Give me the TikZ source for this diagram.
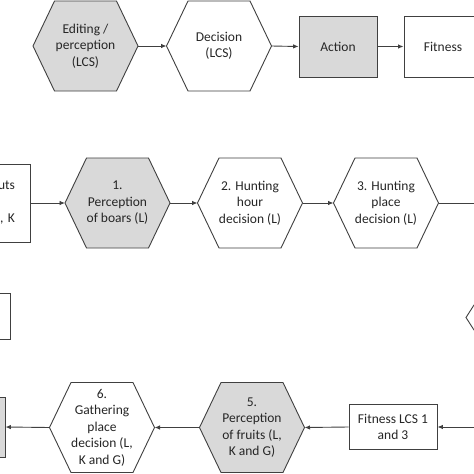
\documentclass[tikz,border=0pt]{standalone}
\usepackage{fontspec}
\setmainfont{Carlito}
\usetikzlibrary{arrows.meta}
\definecolor{lc}{HTML}{404040}
\definecolor{gf}{HTML}{D9D9D9}
\definecolor{tc}{HTML}{262626}
\tikzset{
  ln/.style={draw=lc, line width=0.9pt},
  arr/.style={ln, -{Latex[length=5.5pt,width=4.5pt]}},
  txt/.style={text=tc, font=\fontsize{13.5}{16.5}\selectfont, align=center, inner sep=0pt},
  rectbox/.style={ln, txt, rectangle, inner sep=2pt},
}
\newcommand{\hexag}[5]{%
  \begin{scope}[shift={(#2,#3)}]
    \draw[ln, fill=#4] (-31,-45) -- (31,-45) -- (52.5,0) -- (31,45) -- (-31,45) -- (-52.5,0) -- cycle;
    \coordinate (#1-w) at (-52.5,0);
    \coordinate (#1-e) at (52.5,0);
    \node[txt] (#1) at (0,0) {#5};
  \end{scope}}
\begin{document}
\begin{tikzpicture}[x=1pt,y=-1pt]
\useasboundingbox (0,0) rectangle (474,474);
\clip (0,0) rectangle (474,474);
\fill[white] (0,0) rectangle (474,474);
% row 1
\hexag{hE}{85.5}{46}{gf}{Editing /\\perception\\(LCS)}
\hexag{hD}{219}{46}{white}{Decision\\(LCS)}
\node[rectbox, fill=gf, minimum width=78pt, minimum height=61pt] (act) at (338,46.5) {Action};
\node[rectbox, fill=white, minimum width=78pt, minimum height=61pt] (fit) at (443,46.5) {Fitness};
\draw[arr] (hE-e) -- (hD-w);
\draw[arr] (hD-e) -- (act.west);
\draw[arr] (act.east) -- (fit.west);
% row 2
\node[rectbox, fill=white, minimum width=80pt, minimum height=78pt, text width=50pt, align=right] (inp) at (-10,203) {uts\\\strut\\L, K};
\hexag{h1}{117.5}{203}{gf}{1.\\Perception\\of boars (L)}
\hexag{h2}{250}{203}{white}{2. Hunting\\hour\\decision (L)}
\hexag{h3}{386}{203}{white}{3. Hunting\\place\\decision (L)}
\coordinate (c3) at (490,203);
\draw[arr] (inp.east) -- (h1-w);
\draw[arr] (h1-e) -- (h2-w);
\draw[arr] (h2-e) -- (h3-w);
\draw[ln] (h3-e) -- (c3);
% row 3 partial shapes
\node[rectbox, fill=white, minimum width=88pt, minimum height=46pt] (r3l) at (-34,316) {};
\draw[ln, fill=white] (520,305) -- (474,305) -- (466,317.5) -- (474,330) -- (520,330);
% row 4
\node[rectbox, fill=gf, minimum width=78pt, minimum height=60pt] (g) at (-34,427) {};
\hexag{h6}{102}{427.5}{white}{6.\\Gathering\\place\\decision (L,\\K and G)}
\hexag{h5}{252}{427.5}{gf}{5.\\Perception\\of fruits (L,\\K and G)}
\node[rectbox, fill=white, minimum width=88pt, minimum height=45pt] (fl) at (393,427) {Fitness LCS 1\\and 3};
\coordinate (c4) at (490,427);
\draw[arr] (c4) -- (fl.east);
\draw[arr] (fl.west) -- (h5-e);
\draw[arr] (h5-w) -- (h6-e);
\draw[arr] (h6-w) -- (g.east);
\end{tikzpicture}
\end{document}
